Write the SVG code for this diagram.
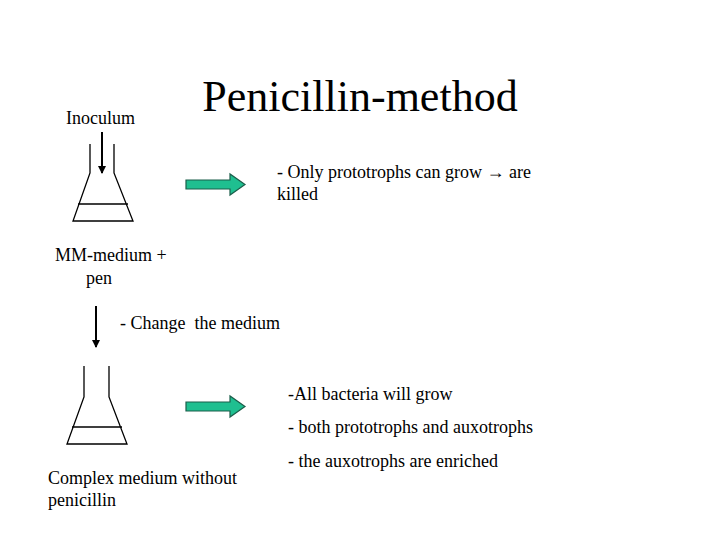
<svg xmlns="http://www.w3.org/2000/svg" width="720" height="540" viewBox="0 0 720 540">
<defs>
<style>
text{font-family:"Liberation Serif","Times New Roman",serif;fill:#000}
.s{font-size:18px}
.flask{fill:none;stroke:#000;stroke-width:1.3}
.big{fill:#1fbf90;stroke:#1b5e4a;stroke-width:1.2}
</style>
<marker id="ah" markerWidth="8" markerHeight="8" refX="7" refY="4" orient="auto" markerUnits="userSpaceOnUse"><path d="M0,0 L8,4 L0,8 Z" fill="#000"/></marker>
</defs>
<rect width="720" height="540" fill="#fff"/>
<text x="360" y="111" text-anchor="middle" style="font-size:44px">Penicillin-method</text>
<g id="flask1">
<text x="66" y="124" class="s">Inoculum</text>
<path class="flask" d="M90,144 V173 L73,221 H133 L114,173 V144 M78,204 H128"/>
</g>
<g id="label1"><text x="55" y="261" class="s">MM-medium +</text><text x="86" y="284" class="s">pen</text></g>
<g id="flask2">
<path class="flask" d="M84,366 V397 L67,444 H127 L109,397 V366 M72,427 H122"/>
<text x="48" y="484" class="s">Complex medium without</text><text x="48" y="506" class="s">penicillin</text>
</g>
<g id="texts">
<text x="277" y="178" class="s">- Only prototrophs can grow <tspan>→</tspan> are</text>
<text x="277" y="200" class="s">killed</text>
<text x="120" y="329" class="s" xml:space="preserve">- Change  the medium</text>
<text x="288" y="400" class="s">-All bacteria will grow</text>
<text x="288" y="433" class="s">- both prototrophs and auxotrophs</text>
<text x="288" y="467" class="s">- the auxotrophs are enriched</text>
</g>
<g id="connectors">
<line x1="102" y1="132" x2="102" y2="173" stroke="#000" stroke-width="2" marker-end="url(#ah)"/>
<line x1="96" y1="306" x2="96" y2="347" stroke="#000" stroke-width="2" marker-end="url(#ah)"/>
<path class="big" d="M186,180 H230 V174 L245,184.5 L230,195 V189 H186 Z"/>
<path class="big" d="M186,402 H230 V396 L245,406.5 L230,417 V411 H186 Z"/>
</g>
</svg>
